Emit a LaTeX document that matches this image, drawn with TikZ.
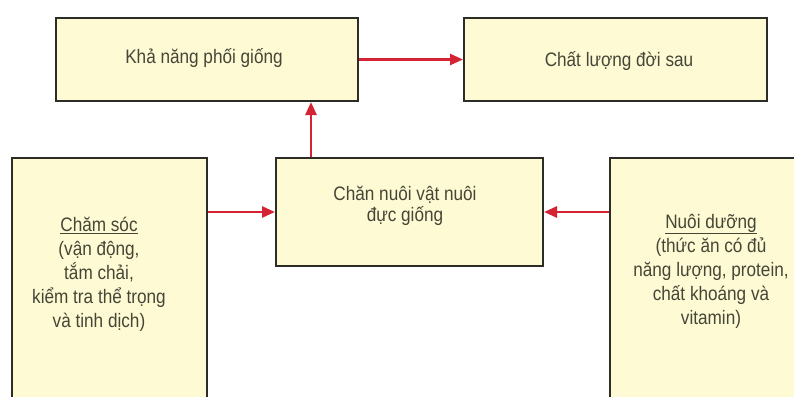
\documentclass[tikz,border=0pt]{standalone}
\usepackage{fontspec}
\setmainfont[FakeStretch=0.88]{Liberation Sans}
\usetikzlibrary{arrows.meta}
\definecolor{boxfill}{RGB}{253,250,212}
\definecolor{boxline}{RGB}{45,45,40}
\definecolor{txtcol}{RGB}{70,70,55}
\definecolor{arrred}{RGB}{212,36,52}
\tikzset{
  box/.style={draw=boxline, line width=2pt, fill=boxfill, rectangle, inner sep=0pt},
  txt/.style={text=txtcol, align=center, inner sep=0pt, font=\fontsize{19.5}{24}\selectfont},
  arr/.style={draw=arrred, line width=2.6pt, -{Triangle[length=13pt,width=11pt]}}
}
\begin{document}
\begin{tikzpicture}[x=1pt,y=-1pt]
\useasboundingbox (0,0) rectangle (794,396);
\clip (0,0) rectangle (794,396);
\fill[white] (0,0) rectangle (794,396);
% boxes
\node[box, minimum width=302pt, minimum height=83pt] (A) at (207,59.5) {};
\node[box, minimum width=303pt, minimum height=83pt] (B) at (615.5,59.5) {};
\node[box, minimum width=267pt, minimum height=108pt] (D) at (409.5,212) {};
\node[box, minimum width=195pt, minimum height=280pt] (C) at (109.5,298) {};
\node[box, minimum width=230pt, minimum height=280pt] (E) at (725,298) {};
% texts
\node[txt] (tA) at (204,58) {Khả năng phối giống};
\node[txt] (tB) at (619,61) {Chất lượng đời sau};
\node[txt, font=\fontsize{19.5}{21}\selectfont] (tD) at (405,206) {Chăn nuôi vật nuôi\\đực giống};
\node[txt] (tC) at (99,274) {\underline{Chăm sóc}\\(vận động,\\tắm chải,\\kiểm tra thể trọng\\và tinh dịch)};
\node[txt] (tE) at (711,271) {\underline{Nuôi dưỡng}\\(thức ăn có đủ\\năng lượng, protein,\\chất khoáng và\\vitamin)};
% connectors
\coordinate (xDA) at (311,0);
\draw[arr] (A.east) -- (B.west);
\draw[arr] (D.north -| xDA) -- (A.south -| xDA);
\draw[arr] (C.east |- D.west) -- (D.west);
\draw[arr] (E.west |- D.east) -- (D.east);
\end{tikzpicture}
\end{document}
